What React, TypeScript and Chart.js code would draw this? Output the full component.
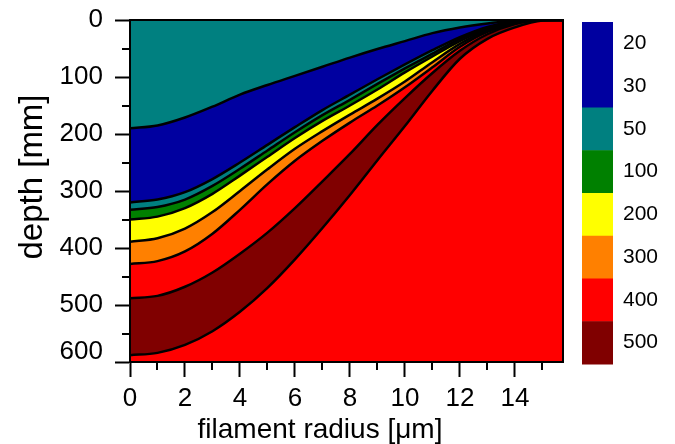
import React, { useEffect, useRef } from 'react';
import { Chart, registerables } from 'chart.js';

Chart.register(...registerables);

// filament radius [µm] sample positions
const radius = [0, 1, 2, 3, 4, 5, 6, 7, 8, 9, 10, 11, 12, 13, 14, 15, 15.75];

// contour boundary depths [mm], top to bottom
const bound1 = [190, 185, 171, 152, 131, 114, 98, 82, 66, 51, 37, 23, 13, 6, 1, 0, 0];
const bound2 = [320, 315, 302, 279, 250, 219, 188, 158, 131, 104, 78, 53, 30, 12, 2, 0, 0];
const bound3 = [333, 328, 315, 291, 261, 229, 197, 167, 140, 112, 85, 59, 33, 14, 3, 0, 0];
const bound4 = [350, 345, 330, 305, 273, 240, 207, 177, 150, 122, 92, 64, 37, 16, 4, 0, 0];
const bound5 = [389, 383, 366, 337, 300, 262, 226, 195, 166, 138, 108, 74, 42, 18, 5, 0, 0];
const bound6 = [428, 423, 406, 375, 333, 288, 247, 212, 180, 150, 118, 83, 47, 21, 6, 0, 0];
const bound7 = [488, 484, 468, 443, 410, 373, 330, 283, 235, 184, 137, 93, 54, 25, 7, 0, 0];
const bound8 = [588, 584, 570, 546, 512, 470, 420, 365, 307, 246, 186, 124, 68, 33, 13, 1, 0];

// fill colour of the region above each boundary, plus the region below the last one
const regionColors = ['#008080', '#0000A0', '#008080', '#008000', '#FFFF00', '#FF8000', '#FF0000', '#800000'];
const bottomRegionColor = '#FF0000';

// colour bar
const colorbarLabels = ['20', '30', '50', '100', '200', '300', '400', '500'];
const colorbarColors = ['#0000A0', '#0000A0', '#008080', '#008000', '#FFFF00', '#FF8000', '#FF0000', '#800000'];

const xMinorTicks = [1, 3, 5, 7, 9, 11, 13, 15];
const yMinorTicks = [50, 150, 250, 350, 450, 550];
const yLastTick = 600;

const xTitle = 'filament radius [μm]';
const yTitle = 'depth [mm]';

const FONT = "'Liberation Sans', Arial, Helvetica, sans-serif";

const decorPlugin = {
  id: 'decor',
  afterDraw(chart: any) {
    const { ctx, chartArea, scales } = chart;
    const { left, right, top, bottom } = chartArea;
    const x = scales.x;
    const y = scales.y;
    ctx.save();
    // frame
    ctx.strokeStyle = '#000';
    ctx.lineWidth = 2;
    ctx.strokeRect(left, top, right - left, bottom - top);
    // minor ticks
    ctx.beginPath();
    xMinorTicks.forEach((v) => {
      const px = Math.round(x.getPixelForValue(v));
      ctx.moveTo(px, bottom);
      ctx.lineTo(px, bottom + 8);
    });
    yMinorTicks.forEach((v) => {
      const py = Math.round(y.getPixelForValue(v));
      ctx.moveTo(left, py);
      ctx.lineTo(left - 8, py);
    });
    ctx.stroke();

    // last y tick label, lifted clear of the x axis as in the original
    ctx.fillStyle = '#000';
    ctx.font = `26px ${FONT}`;
    ctx.textAlign = 'right';
    ctx.textBaseline = 'middle';
    ctx.fillText(String(yLastTick), left - 27, y.getPixelForValue(yLastTick) - 10);

    // axis titles
    ctx.font = `28px ${FONT}`;
    ctx.textAlign = 'center';
    ctx.fillText(xTitle, 320, 430);
    ctx.save();
    ctx.translate(33, 177);
    ctx.rotate(-Math.PI / 2);
    ctx.font = `33px ${FONT}`;
    ctx.fillText(yTitle, 0, 0);
    ctx.restore();

    // colour bar
    const cbLeft = 582;
    const cbRight = 613;
    const cbTop = 22;
    const cbBottom = 364;
    const h = (cbBottom - cbTop) / colorbarColors.length;
    colorbarColors.forEach((c, i) => {
      ctx.fillStyle = c;
      ctx.fillRect(cbLeft, cbTop + i * h, cbRight - cbLeft, h + 0.5);
    });
    ctx.fillStyle = '#000';
    ctx.font = `21px ${FONT}`;
    ctx.textAlign = 'left';
    ctx.textBaseline = 'middle';
    colorbarLabels.forEach((t, i) => {
      ctx.fillText(t, 623, cbTop + (i + 0.5) * h);
    });
    ctx.restore();
  },
};

export default function App() {
  const canvasRef = useRef<HTMLCanvasElement>(null);

  useEffect(() => {
    const canvas = canvasRef.current;
    if (!canvas) return;
    const bounds = [bound1, bound2, bound3, bound4, bound5, bound6, bound7, bound8];
    const datasets: any[] = bounds.map((b, i) => ({
      label: `b${i + 1}`,
      data: radius.map((r, j) => ({ x: r, y: b[j] })),
      borderColor: '#000',
      borderWidth: 2.5,
      pointRadius: 0,
      backgroundColor: regionColors[i],
      fill: i === 0 ? { value: 0 } : '-1',
      cubicInterpolationMode: 'monotone',
    }));
    datasets.push({
      label: 'below',
      data: radius.map((r, j) => ({ x: r, y: bound8[j] })),
      borderColor: 'rgba(0,0,0,0)',
      borderWidth: 0,
      pointRadius: 0,
      backgroundColor: bottomRegionColor,
      fill: { value: 600 },
      cubicInterpolationMode: 'monotone',
    });

    const chart = new Chart(canvas, {
      type: 'line',
      data: { datasets },
      plugins: [decorPlugin],
      options: {
        responsive: false,
        maintainAspectRatio: false,
        devicePixelRatio: 1,
        animation: false,
        layout: { padding: { top: 20, right: 112, bottom: 0, left: 0 } },
        plugins: {
          legend: { display: false },
          tooltip: { enabled: false },
        },
        scales: {
          x: {
            type: 'linear',
            min: 0,
            max: 15.75,
            ticks: {
              stepSize: 2,
              includeBounds: false,
              autoSkip: false,
              maxRotation: 0,
              color: '#000',
              font: { family: FONT, size: 26 },
              padding: 6,
            },
            grid: {
              drawOnChartArea: false,
              drawTicks: true,
              tickLength: 15,
              tickWidth: 2,
              tickColor: '#000',
            },
            border: { color: '#000', width: 2 },
            afterFit: (s: any) => {
              s.height = 82;
            },
          },
          y: {
            type: 'linear',
            reverse: true,
            min: 0,
            max: 600,
            ticks: {
              stepSize: 100,
              color: '#000',
              font: { family: FONT, size: 26, lineHeight: 0.5 },
              padding: 12,
              callback: (v: any) => (v === yLastTick ? '' : String(v)),
            },
            grid: {
              drawOnChartArea: false,
              drawTicks: true,
              tickLength: 15,
              tickWidth: 2,
              tickColor: '#000',
            },
            border: { color: '#000', width: 2 },
            afterFit: (s: any) => {
              s.width = 130;
            },
          },
        },
      } as any,
    });
    return () => chart.destroy();
  }, []);

  return (
    <div style={{ position: 'absolute', left: 0, top: 0, width: 675, height: 444, background: '#fff' }}>
      <canvas ref={canvasRef} width={675} height={444} />
    </div>
  );
}
